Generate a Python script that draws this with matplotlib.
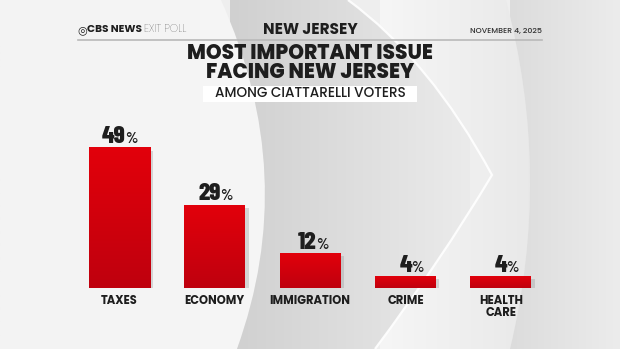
import matplotlib
matplotlib.use("Agg")
import matplotlib.pyplot as plt
import numpy as np
from matplotlib.path import Path
from matplotlib.patches import PathPatch, Rectangle
from matplotlib.colors import LinearSegmentedColormap
import matplotlib.patheffects as pe

# ---------------- data ----------------
categories = ["TAXES", "ECONOMY", "IMMIGRATION", "CRIME", "HEALTH\nCARE"]
values = [49, 29, 12, 4, 4]
header_center = "NEW JERSEY"
header_right = "NOVEMBER 4, 2025"
title_lines = ["MOST IMPORTANT ISSUE", "FACING NEW JERSEY"]
subtitle = "AMONG CIATTARELLI VOTERS"

W, H = 620, 349
fig = plt.figure(figsize=(W / 100, H / 100), dpi=100)

# ---------------- background (pixel coordinates) ----------------
bg = fig.add_axes([0, 0, 1, 1], zorder=0)
bg.set_xlim(0, W); bg.set_ylim(H, 0); bg.axis('off')
bg.add_patch(Rectangle((0, 0), W, H, color='#eeeeee', zorder=0))

def grad_fill(path, c0, c1, x0, x1, z):
    patch = PathPatch(path, facecolor='none', edgecolor='none', zorder=z)
    bg.add_patch(patch)
    g = np.linspace(0, 1, 256)
    cm = LinearSegmentedColormap.from_list('g', [c0, c1])
    im = bg.imshow(g[None, :], cmap=cm, extent=(x0, x1, H, 0), aspect='auto', zorder=z,
                   interpolation='bilinear')
    im.set_clip_path(patch)

# left light region
p_left = Path([(0, 0), (221, 0), (300, 175), (237, 349), (0, 349), (0, 0)],
              [Path.MOVETO, Path.LINETO, Path.CURVE3, Path.CURVE3, Path.LINETO, Path.CLOSEPOLY])
grad_fill(p_left, '#f3f3f3', '#f6f6f6', 0, 300, 1)

# band between left arc and chevron
p_mid = Path([(221, 0), (348, 0), (430, 60), (492, 175), (440, 262), (375, 349),
              (237, 349), (300, 175), (221, 0)],
             [Path.MOVETO, Path.LINETO, Path.CURVE3, Path.CURVE3, Path.CURVE3, Path.CURVE3,
              Path.LINETO, Path.CURVE3, Path.CURVE3])
grad_fill(p_mid, '#d0d0d0', '#ebebeb', 230, 470, 1)

# chevron region
p_chev = Path([(348, 0), (506, 0), (552, 175), (510, 349), (375, 349),
               (440, 262), (492, 175), (430, 60), (348, 0)],
              [Path.MOVETO, Path.LINETO, Path.CURVE3, Path.CURVE3, Path.LINETO,
               Path.CURVE3, Path.CURVE3, Path.CURVE3, Path.CURVE3])
grad_fill(p_chev, '#f6f6f6', '#e8e8e8', 380, 540, 1)

# white highlight along chevron edge
edge = Path([(348, 0), (430, 60), (492, 175), (440, 262), (375, 349)],
            [Path.MOVETO, Path.CURVE3, Path.CURVE3, Path.CURVE3, Path.CURVE3])
bg.add_patch(PathPatch(edge, facecolor='none', edgecolor='white', lw=1.6, alpha=0.9, zorder=2))

# right band
p_right = Path([(506, 0), (W, 0), (W, H), (510, 349), (552, 175), (506, 0)],
               [Path.MOVETO, Path.LINETO, Path.LINETO, Path.LINETO, Path.CURVE3, Path.CURVE3])
grad_fill(p_right, '#dcdcdc', '#ececec', 510, 620, 1)
bg.set_xlim(0, W); bg.set_ylim(H, 0)

# ---------------- header & titles ----------------
TF = 'Poppins'
dark = '#1e1e1e'
bg.text(77, 30, "\u25CE", fontsize=8, family='DejaVu Sans', weight='bold', color=dark,
        va='center', ha='left', zorder=5)
bg.text(87, 30, "CBS NEWS", fontsize=7.6, family=TF, weight='bold', color=dark,
        va='center', ha='left', zorder=5)
bg.text(186, 30, "EXIT POLL", fontsize=7.6, family=TF, weight='light', color='#333333',
        va='center', ha='right', zorder=5)
bg.text(310, 29.5, header_center, fontsize=11, family=TF, weight='bold', color=dark,
        va='center', ha='center', zorder=5)
bg.text(542, 31, header_right, fontsize=5.6, family=TF, weight='medium', color='#333333',
        va='center', ha='right', zorder=5)
bg.plot([78, 542], [40, 40], color='#b9b9b9', lw=1.2, zorder=5)

bg.text(310, 63.5, "\n".join(title_lines), fontsize=14.5, family=TF, weight='heavy', color=dark,
        va='center', ha='center', multialignment='center', linespacing=0.86, zorder=5)
bg.add_patch(Rectangle((203, 85.5), 214, 16, facecolor='white', edgecolor='none', zorder=4))
bg.text(310, 93.5, subtitle, fontsize=9.8, family=TF, weight='medium', color=dark,
        va='center', ha='center', zorder=5)

# ---------------- bars ----------------
spacing = 95.4
bar_w = 61 / spacing
left_px = 119.3 - 0.5 * spacing
bottom_px = 288
ymax = 50
scale = 140.0 / 49  # px per percent
axb = fig.add_axes([left_px / W, (H - bottom_px) / H, 5 * spacing / W, ymax * scale / H], zorder=3)
axb.set_xlim(-0.5, 4.5); axb.set_ylim(0, ymax)
axb.axis('off'); axb.patch.set_alpha(0)

x = np.arange(len(categories))
bars = axb.bar(x, values, width=bar_w, color='#d4000d', zorder=2,
               path_effects=[pe.SimplePatchShadow(offset=(2.5, -2), shadow_rgbFace='#999999', alpha=0.35),
                             pe.Normal()])
red_cm = LinearSegmentedColormap.from_list('red', ['#bf000e', '#e2000b'])
for b in bars:
    bx, by, bw, bh = b.get_x(), b.get_y(), b.get_width(), b.get_height()
    axb.imshow(np.linspace(0, 1, 128)[:, None], cmap=red_cm, origin='lower',
               extent=(bx, bx + bw, by, by + bh), aspect='auto', zorder=3, interpolation='bilinear')
axb.set_xlim(-0.5, 4.5); axb.set_ylim(0, ymax)

NF = 'Barlow Condensed'
for xi, v in zip(x, values):
    axb.annotate(f"{v}", (xi, v), xytext=(4.6, 3.6), textcoords='offset points',
                 ha='right', va='baseline', fontsize=18, family=NF, weight='heavy', color=dark, zorder=5)
    axb.annotate("%", (xi, v), xytext=(4.1, 3.6), textcoords='offset points',
                 ha='left', va='baseline', fontsize=11.5, family=NF, weight='semibold', color=dark, zorder=5)

for xi, c in zip(x, categories):
    axb.annotate(c, (xi, 0), xytext=(0, -5.2), textcoords='offset points', ha='center', va='top',
                 fontsize=8.3, family=TF, weight='bold', color=dark, linespacing=1.0, zorder=5)

fig.savefig("out.png", dpi=100)
